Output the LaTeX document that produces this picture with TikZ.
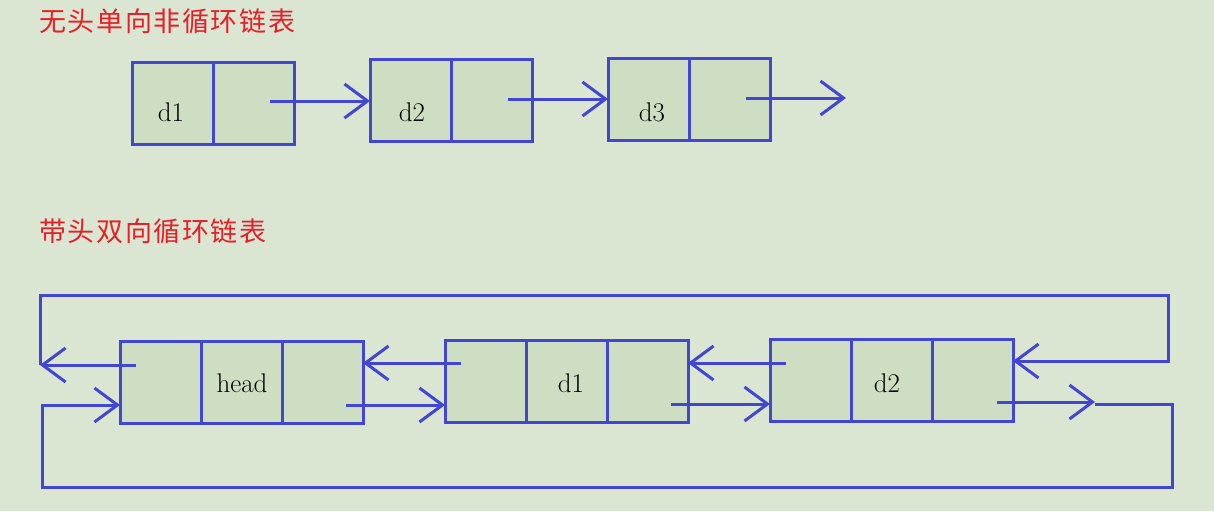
\documentclass[tikz,border=0pt]{standalone}
\usepackage{fontspec}
\newfontfamily\cjk[LetterSpace=6]{Noto Sans CJK SC}
\usetikzlibrary{arrows.meta}
\definecolor{bg}{RGB}{219,230,210}
\definecolor{cellfill}{RGB}{206,222,195}
\definecolor{lineblue}{RGB}{66,70,210}
\definecolor{titlered}{RGB}{232,30,40}
\begin{document}
\begin{tikzpicture}[x=1pt,y=-1pt,
  cell/.style={draw=lineblue,fill=cellfill,line width=3pt,minimum width=81pt,minimum height=82pt,inner sep=0pt,outer sep=0pt},
  lbl/.style={font=\fontsize{27}{30}\selectfont,inner sep=0pt},
  ttl/.style={font=\cjk\fontsize{27}{30}\selectfont,text=titlered,anchor=west,inner sep=0pt},
  arr/.style={draw=lineblue,line width=3pt,-{Straight Barb[length=23pt,width=34pt]}},
  wire/.style={draw=lineblue,line width=3pt}]
\fill[bg] (0,0) rectangle (1214,511);
\useasboundingbox (0,0) rectangle (1214,511);

% titles
\node[ttl] (title1) at (39,21) {无头单向非循环链表};
\node[ttl] (title2) at (39,231) {带头双向循环链表};

% top row
\node[cell] (a1d) at (172.5,103) {};
\node[cell] (a1n) at (253.5,103) {};
\node[cell] (a2d) at (410.5,100.5) {};
\node[cell] (a2n) at (491.5,100.5) {};
\node[cell] (a3d) at (648.5,99.5) {};
\node[cell] (a3n) at (729.5,99.5) {};
\node[lbl] (ta1) at (171,112) {d1};
\node[lbl] (ta2) at (412,112) {d2};
\node[lbl] (ta3) at (652,112) {d3};

\coordinate (p1) at (270,101);
\coordinate (p2) at (508,99);
\coordinate (p3) at (746,98);
\coordinate (e3) at (846,98);
\draw[arr] (p1) -- (p1 -| a2d.west);
\draw[arr] (p2) -- (p2 -| a3d.west);
\draw[arr] (p3) -- (e3);

% bottom row
\node[cell] (hp) at (160.5,382) {};
\node[cell] (hd) at (241.5,382) {};
\node[cell] (hn) at (322.5,382) {};
\node[cell] (b1p) at (485.5,381) {};
\node[cell] (b1d) at (566.5,381) {};
\node[cell] (b1n) at (647.5,381) {};
\node[cell] (b2p) at (810.5,380) {};
\node[cell] (b2d) at (891.5,380) {};
\node[cell] (b2n) at (972.5,380) {};
\node[lbl] (th) at (242,383) {head};
\node[lbl] (tb1) at (571,383) {d1};
\node[lbl] (tb2) at (887,383) {d2};

% prev pointers
\coordinate (q1) at (136,365);
\coordinate (L1) at (40,365);
\coordinate (TR) at (1168,295);
\coordinate (R1) at (1168,361);
\draw[arr] (q1) -- (L1);
\draw[arr] (L1) |- (TR) -- (R1) -- (R1 -| b2n.east);
\coordinate (q2) at (461,363);
\coordinate (q3) at (786,363);
\draw[arr] (q2) -- (q2 -| hn.east);
\draw[arr] (q3) -- (q3 -| b1n.east);

% next pointers
\coordinate (n1) at (346,405);
\coordinate (n2) at (671,404);
\coordinate (n3) at (997,402);
\coordinate (E3) at (1095,402);
\draw[arr] (n1) -- (n1 -| b1p.west);
\draw[arr] (n2) -- (n2 -| b2p.west);
\draw[arr] (n3) -- (E3);
\coordinate (F3) at (1095,404);
\coordinate (BR) at (1172,404);
\coordinate (BL) at (42,487);
\coordinate (in0) at (42,405);
\draw[arr] (F3) -- (BR) |- (BL) -- (in0) -- (in0 -| hp.west);
\end{tikzpicture}
\end{document}
